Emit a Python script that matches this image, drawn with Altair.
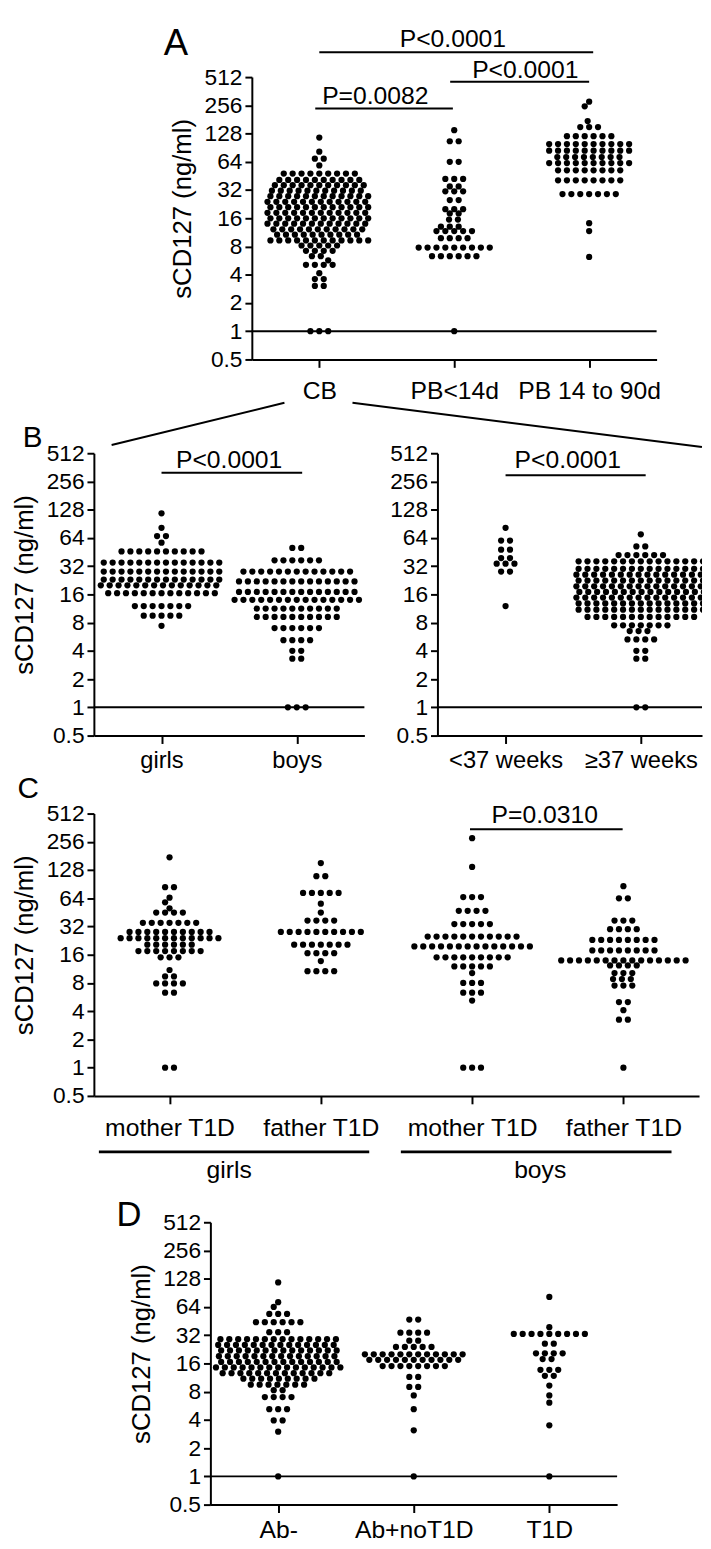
import math
import altair as alt
import pandas as pd

FONT = "Liberation Sans"

# ------------------------------------------------------------------
# Values: for every group the level (ng/ml) of
# each row of dots and the number of dots counted in that row.
# ------------------------------------------------------------------
# Panel A
cb_lv = [116, 82, 69, 58.5, 48, 41, 36, 31.5, 27.5, 24, 21, 18.3, 16, 14, 12.2, 10.7, 9.3, 8.2, 7.2, 6.3, 5.7, 5.1, 4.15, 3.6, 3.04, 1]
cb_n = [1, 1, 2, 1, 9, 10, 11, 11, 12, 12, 12, 12, 12, 12, 11, 10, 12, 5, 4, 2, 1, 4, 1, 2, 2, 3]
pb1_lv = [139, 106, 64, 42, 35, 31, 25, 20, 18, 15.5, 13, 11.7, 9.8, 7.8, 6.3, 1]
pb1_n = [1, 2, 2, 3, 2, 3, 2, 3, 2, 2, 3, 5, 4, 9, 6, 1]
pb2_lv = [280, 250, 174, 150, 120, 99, 84, 72, 62, 52, 40.6, 29, 14.2, 11.7, 6.2]
pb2_n = [1, 1, 1, 3, 6, 10, 10, 8, 10, 8, 8, 7, 1, 1, 1]

# Panel B
girls_lv = [117, 82, 67, 57, 46, 35, 28, 23, 20, 16.5, 12, 9.5, 7.4]
girls_n = [1, 1, 2, 1, 10, 14, 14, 14, 14, 13, 7, 5, 1]
boys_lv = [50, 37, 28, 22, 17, 14, 11.3, 9.2, 7, 5.2, 4, 3.3, 1]
boys_n = [2, 6, 13, 14, 14, 15, 10, 10, 6, 4, 2, 2, 3]
pre_lv = [82, 60, 48, 39, 34, 28, 12]
pre_n = [1, 2, 2, 2, 3, 2, 1]
term_lv = [70, 52, 42, 36, 30, 26, 22.5, 19.5, 17, 14.8, 12.8, 11, 9.2, 7.5, 6.5, 5.3, 4, 3.3, 1]
term_n = [1, 2, 6, 15, 15, 15, 15, 15, 15, 15, 15, 15, 13, 7, 3, 4, 2, 2, 2]

# Panel C
gm_lv = [175, 84, 65, 58, 50, 45, 35, 28, 24, 20.5, 17.5, 15, 11, 9.4, 7.9, 6.3, 1]
gm_n = [1, 2, 1, 1, 1, 4, 7, 10, 12, 6, 8, 3, 1, 2, 4, 2, 2]
gf_lv = [152, 110, 73, 56, 45, 37, 28, 20.5, 16.6, 13.7, 10.7]
gf_n = [1, 2, 5, 1, 1, 4, 10, 7, 4, 1, 4]
bm_lv = [280, 138, 66, 47, 34, 25, 19.6, 15, 12, 10.2, 8, 6.3, 5.2, 1]
bm_n = [1, 1, 3, 4, 5, 11, 14, 9, 5, 1, 3, 3, 1, 3]
bf_lv = [86, 64, 37, 30, 23, 17.8, 13.9, 12.3, 10.2, 8.8, 7.5, 5, 4.1, 3.25, 1]
bf_n = [1, 2, 3, 4, 8, 8, 15, 4, 3, 3, 3, 2, 1, 2, 1]

# Panel D
abn_lv = [117, 72, 64, 54, 44, 34.5, 29, 25.2, 22, 19.1, 16.6, 14.5, 12.6, 11, 9.5, 8.3, 7, 5.2, 3.95, 3, 1]
abn_n = [1, 1, 1, 3, 6, 3, 14, 14, 14, 14, 14, 15, 13, 9, 7, 2, 4, 3, 2, 1, 1]
abp_lv = [47, 34, 28, 24, 20, 17.5, 15, 11.5, 9, 7.3, 5.2, 3.1, 1]
abp_n = [2, 4, 2, 5, 12, 11, 8, 2, 2, 1, 1, 1, 1]
t1d_lv = [82, 39, 33, 26, 20.5, 17.8, 13.7, 11.8, 9.3, 7.3, 6.1, 3.5, 1]
t1d_n = [1, 1, 9, 2, 4, 2, 3, 2, 1, 1, 1, 1, 1]

cats_A = ["CB", "PB<14d", "PB 14 to 90d"]
cats_BL = ["girls", "boys"]
cats_BR = ["<37 weeks", "\u226537 weeks"]
cats_C = ["mother T1D", "father T1D", "mother T1D", "father T1D"]
cats_D = ["Ab-", "Ab+noT1D", "T1D"]
y_ticks = [0.5, 1, 2, 4, 8, 16, 32, 64, 128, 256, 512]

# p-value annotations (text)
p_A = ["P<0.0001", "P<0.0001", "P=0.0082"]
p_BL = ["P<0.0001"]
p_BR = ["P<0.0001"]
p_C = ["P=0.0310"]
groups_C = ["girls", "boys"]

# ------------------------------------------------------------------
# layout
# ------------------------------------------------------------------
W = 616          # common plot width
H = 286          # plot height (10 doublings)
PXD = H / 10.0   # pixels per doubling
STEP = 9.0       # horizontal distance between dots of one row
MIN = 6.2        # smallest distance between dots of different rows
DOT = 40
SHIFTS = [0.0, 4.5, -4.5, 2.25, -2.25, 1.5, -1.5, 3.0, -3.0, 0.75, -0.75, 3.75, -3.75]


def swarm(levels, counts, idx, ppu):
    placed, out = [], []
    order = sorted(range(len(levels)), key=lambda i: (-counts[i], -levels[i]))

    def penalty(x, y):
        p = 0.0
        for px, py in placed:
            d = math.hypot(px - x, py - y)
            if d < MIN:
                p += MIN - d
        return p

    grid = sorted([k * STEP / 2 for k in range(-60, 61)], key=lambda c: (abs(c), c))
    for i in order:
        v, n = levels[i], counts[i]
        y = math.log2(v) * PXD
        sym = [(k - (n - 1) / 2) * STEP for k in range(n)]
        scored = []
        for s in SHIFTS:
            scored.append((sum(penalty(c + s, y) for c in sym), abs(s), s))
        best = min(scored)
        if best[0] == 0 or n >= 3:
            xs = [c + best[2] for c in sym]
        else:
            xs = []
            for _ in range(n):
                for c in grid:
                    if penalty(c, y) == 0 and all(abs(c - o) >= STEP - 1e-6 for o in xs):
                        break
                xs.append(c)
        placed += [(x, y) for x in xs]
        out += [{"x": idx + x / ppu, "v": v} for x in xs]
    return out


def cat_expr(names):
    return "[" + ",".join("'" + n + "'" for n in names) + "][round(datum.value)]"


def make_x(names, domain, rng, pad, fs=25):
    return alt.X(
        "x:Q",
        scale=alt.Scale(domain=domain, range=rng, nice=False, zero=False),
        axis=alt.Axis(values=list(range(len(names))), labelExpr=cat_expr(names), title=None,
                      orient="bottom", grid=False, domainWidth=2, tickWidth=2, tickSize=8,
                      labelFontSize=fs, labelPadding=pad, labelFlush=False, labelOverlap=False),
    )


def make_y(offset, with_title=True):
    kw = dict(values=y_ticks, format="~g", orient="left", offset=offset, grid=False,
              domainWidth=2, tickWidth=2, tickSize=7, labelFontSize=23, labelPadding=3,
              labelOverlap=False)
    if with_title:
        kw.update(title="sCD127 (ng/ml)", titleFontSize=26, titleX=-57, titleY=133,
                  titleFontWeight="normal")
    else:
        kw.update(title=None)
    return alt.Y("v:Q", scale=alt.Scale(type="log", base=2, domain=[0.5, 512], nice=False),
                 axis=alt.Axis(**kw))


class Panel:
    def __init__(self, x, y):
        self.x, self.y = x, y

    def points(self, groups, ppu, clip=False):
        rows = []
        for i, (lv, n) in enumerate(groups):
            rows += swarm(lv, n, i, ppu)
        return alt.Chart(pd.DataFrame(rows)).mark_circle(
            size=DOT, color="black", opacity=1, clip=clip).encode(x=self.x, y=self.y)

    def hline(self, x1, x2, v, width=2):
        df = pd.DataFrame({"x": x1, "x2": x2, "v": v})
        return alt.Chart(df).mark_rule(color="black", strokeWidth=width).encode(
            x=self.x, x2="x2:Q", y=self.y)

    def seg(self, x1, v1, x2, v2, width=2):
        df = pd.DataFrame({"x": x1, "v": v1, "x2": x2, "v2": v2})
        return alt.Chart(df).mark_rule(color="black", strokeWidth=width).encode(
            x=self.x, x2="x2:Q", y=self.y, y2="v2:Q")

    def label(self, x, v, t, fs=25):
        df = pd.DataFrame({"x": x, "v": v, "t": t})
        return alt.Chart(df).mark_text(font=FONT, fontSize=fs, color="black", align="center",
                                       baseline="alphabetic").encode(x=self.x, y=self.y, text="t:N")


# ---------------- Panel A ----------------
A_rng = [160, 570]
A_ppu = (A_rng[1] - A_rng[0]) / 3
pA = Panel(make_x(cats_A, [-0.5, 2.5], A_rng, 12), make_y(-A_rng[0]))
rowA = alt.layer(
    pA.points([(cb_lv, cb_n), (pb1_lv, pb1_n), (pb2_lv, pb2_n)], A_ppu),
    pA.hline([-0.5], [2.5], [1]),
    pA.hline([0, 0.97, -0.03], [2.03, 2.0, 0.99], [945, 457, 237.5]),
    pA.label([0.99, 1.527, 0.415], [1067, 503.6, 261.6], p_A),
    pA.label([-1.063], [879], ["A"], fs=37),
).properties(width=W, height=H)

# ---------------- Panel B ----------------
BL_rng = [0, 274]
BL_ppu = 137.0
BR_rng = [348, W]
BR_ppu = 137.0
BR_dom = [-69 / BR_ppu, (BR_rng[1] - BR_rng[0] - 69) / BR_ppu]
pBL = Panel(make_x(cats_BL, [-0.5, 1.5], BL_rng, 5, 24), make_y(0))
pBR = Panel(make_x(cats_BR, BR_dom, BR_rng, 5, 24), make_y(-BR_rng[0], False))
left = alt.layer(
    pBL.points([(girls_lv, girls_n), (boys_lv, boys_n)], BL_ppu),
    pBL.hline([-0.5], [1.5], [1]),
    pBL.hline([0], [1.04], [317.6]),
    pBL.label([0.5], [358.5], p_BL),
    pBL.label([-0.953], [596], ["B"], fs=30),
    pBL.seg([-0.369, 1.412], [626, 1770], [0.909, 3.996], [1770, 596]),
)
right = alt.layer(
    pBR.points([(pre_lv, pre_n), (term_lv, term_n)], BR_ppu, clip=True),
    pBR.hline([BR_dom[0]], [BR_dom[1]], [1]),
    pBR.hline([0], [1.036], [297.6]),
    pBR.label([0.46], [358.5], p_BR),
)
rowB = alt.layer(left, right).resolve_scale(x="independent").resolve_axis(
    x="independent", y="independent").properties(width=W, height=H)

# ---------------- Panel C ----------------
C_rng = [0, 613]
C_ppu = 613 / 4
pC = Panel(make_x(cats_C, [-0.5, 3.5], C_rng, 12), make_y(0))
rowC = alt.layer(
    pC.points([(gm_lv, gm_n), (gf_lv, gf_n), (bm_lv, bm_n), (bf_lv, bf_n)], C_ppu),
    pC.hline([1.986], [2.995], [347.5]),
    pC.label([2.48], [405], p_C),
    pC.hline([-0.467, 1.529], [1.32, 3.318], [0.1266, 0.1266], width=3),
    pC.label([0.394, 2.45], [0.0659, 0.0659], groups_C),
    pC.label([-0.934], [742], ["C"], fs=30),
).properties(width=W, height=H)

# ---------------- Panel D ----------------
D_rng = [118, 530]
D_ppu = (D_rng[1] - D_rng[0]) / 3
pD = Panel(make_x(cats_D, [-0.5, 2.5], D_rng, 5), make_y(-D_rng[0]))
rowD = alt.layer(
    pD.points([(abn_lv, abn_n), (abp_lv, abp_n), (t1d_lv, t1d_n)], D_ppu),
    pD.hline([-0.5], [2.5], [1]),
    pD.label([-1.101], [468], ["D"], fs=35),
).properties(width=W, height=H)


def spacer(h):
    return alt.Chart(pd.DataFrame({"s": [0]})).mark_point(opacity=0).encode(
        x=alt.X("s:Q", axis=None), y=alt.Y("s:Q", axis=None)).properties(width=10, height=h)


chart = alt.vconcat(
    rowA, spacer(95), rowB, spacer(79), rowC, spacer(128), rowD,
    spacing=0, bounds="flush",
).properties(
    padding={"left": 3, "top": 7, "right": 0, "bottom": 0}
).configure(font=FONT).configure_view(strokeWidth=0).configure_axis(
    domainColor="black", tickColor="black", labelColor="black", titleColor="black",
    labelFont=FONT, titleFont=FONT,
)

chart.save("out.html", embed_options={"renderer": "svg", "actions": False})
